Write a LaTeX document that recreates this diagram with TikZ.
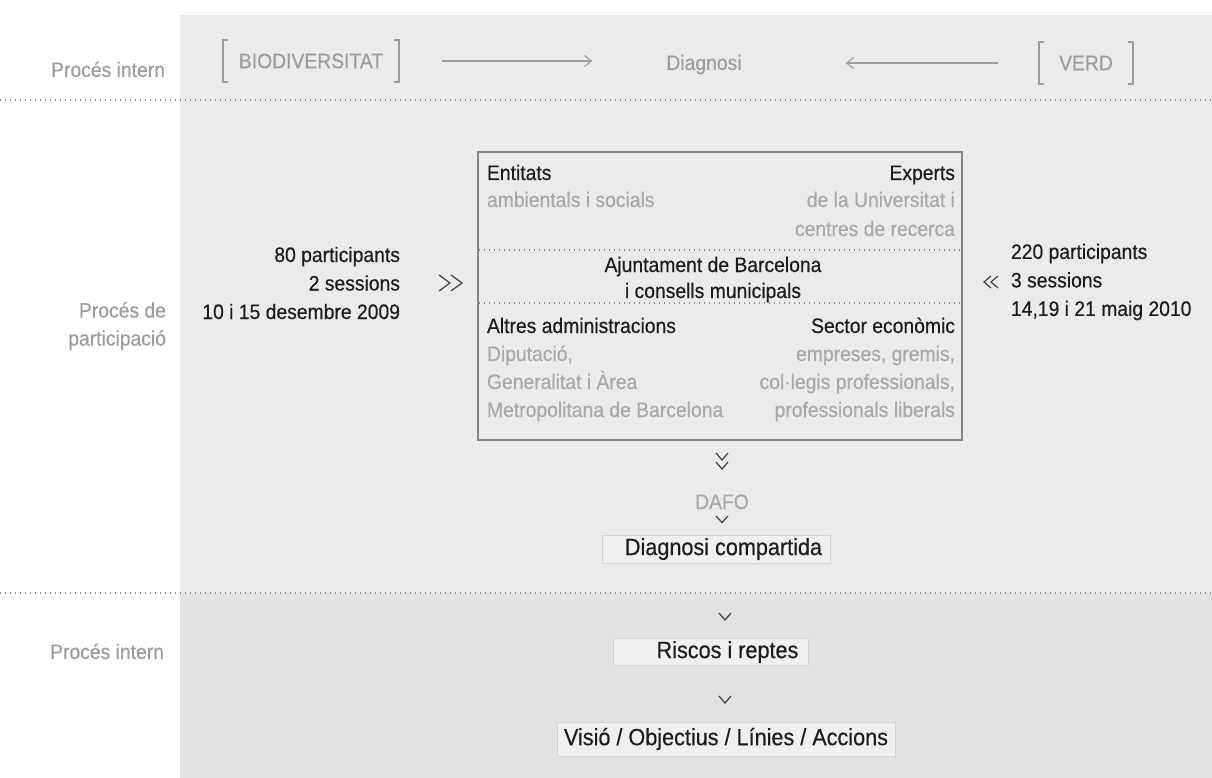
\documentclass[tikz,border=0pt]{standalone}
\usepackage{fontspec}
\setmainfont{Liberation Sans}[FakeStretch=0.92,FakeBold=0.35]
\usetikzlibrary{arrows.meta}
\definecolor{bgA}{HTML}{EBEBEB}
\definecolor{bgB}{HTML}{E2E2E2}
\definecolor{txt}{HTML}{1C1C1C}
\definecolor{lite}{HTML}{A8A8A8}
\definecolor{lbl}{HTML}{9C9C9C}
\definecolor{rule}{HTML}{8A8A8A}
\definecolor{frame}{HTML}{838383}
\definecolor{softfill}{HTML}{F0F0F0}
\begin{document}
\begin{tikzpicture}[x=1pt,y=-1pt,
  every node/.style={inner sep=0pt, outer sep=0pt, font=\fontsize{21}{28.5}\selectfont, text=txt},
  grey/.style={text=lite},
  lab/.style={text=lbl, align=right, font=\fontsize{21}{28}\selectfont},
  big/.style={font=\fontsize{23.5}{28}\selectfont},
  dotrule/.style={draw=rule, line width=1.3pt, dash pattern=on 0.9pt off 4.1pt},
  chev/.style={draw=txt!85, line width=1.2pt, line join=miter},
  flow/.style={draw=lbl, line width=1.2pt, -{Straight Barb[length=7pt,width=11pt]}},
  brk/.style={draw=lbl, line width=1.3pt},
  softbox/.style={draw=black!17, line width=0.6pt, fill=softfill, minimum height=#1},
  softbox/.default=28pt,
  frame/.style={draw=frame, line width=1.5pt}
]
\useasboundingbox (0,0) rectangle (1212,778);
% backgrounds
\fill[bgA] (180,15) rectangle (1212,593);
\fill[bgB] (180,593) rectangle (1212,778);
% separators
\draw[dotrule] (0,100) -- (1212,100);
\draw[dotrule] (0,593) -- (1212,593);

% ---- row 1 : proces intern
\node[lab, anchor=base east] (pi1) at (165,77) {Procés intern};
\node[text=lbl, minimum width=176pt, minimum height=42pt] (bio) at (311,61) {BIODIVERSITAT};
\draw[brk] ([xshift=5pt]bio.north west) -- (bio.north west) -- (bio.south west) -- ([xshift=5pt]bio.south west);
\draw[brk] ([xshift=-5pt]bio.north east) -- (bio.north east) -- (bio.south east) -- ([xshift=-5pt]bio.south east);
\node[text=lbl, anchor=base] (diag) at (704,70) {Diagnosi};
\node[text=lbl, minimum width=94pt, minimum height=42pt] (verd) at (1086,63) {VERD};
\draw[brk] ([xshift=5pt]verd.north west) -- (verd.north west) -- (verd.south west) -- ([xshift=5pt]verd.south west);
\draw[brk] ([xshift=-5pt]verd.north east) -- (verd.north east) -- (verd.south east) -- ([xshift=-5pt]verd.south east);
\draw[flow, shorten <=43pt, shorten >=74pt] (bio.east) -- (diag.west |- bio.east);
\draw[flow, shorten <=41pt, shorten >=104pt] (verd.west) -- (diag.east |- verd.west);

% ---- participation
\node[lab, anchor=east] (pp) at (166,326) {Procés de\\participació};
\node[align=right, anchor=east] (p80) at (400,283) {80 participants\\2 sessions\\10 i 15 desembre 2009};
\node[align=left, anchor=west] (p220) at (1011,282) {220 participants\\3 sessions\\14,19 i 21 maig 2010};
\draw[chev] (439,275) -- (450,283) -- (439,291);
\draw[chev] (451,275) -- (462,283) -- (451,291);
\draw[chev] (991,276) -- (984,282) -- (991,288);
\draw[chev] (998,276) -- (991,282) -- (998,288);

\node[frame, minimum width=484pt, minimum height=288pt] (box) at (720,296) {};
\draw[dotrule, line width=1.1pt] (479,250) -- (961,250);
\draw[dotrule, line width=1.1pt] (479,303) -- (961,303);

\node[anchor=base west] (ent) at (487,180) {Entitats};
\node[grey, anchor=base west] (ent2) at (487,207) {ambientals i socials};
\node[anchor=base east] (exp) at (955,180) {Experts};
\node[grey, anchor=base east] (exp2) at (955,207) {de la Universitat i};
\node[grey, anchor=base east] (exp3) at (955,236) {centres de recerca};
\node[anchor=base] (aj1) at (713,272) {Ajuntament de Barcelona};
\node[anchor=base] (aj2) at (713,298) {i consells municipals};
\node[anchor=base west] (alt) at (487,333) {Altres administracions};
\node[grey, anchor=base west] (alt2) at (487,361) {Diputació,};
\node[grey, anchor=base west] (alt3) at (487,389) {Generalitat i Àrea};
\node[grey, anchor=base west] (alt4) at (487,417) {Metropolitana de Barcelona};
\node[anchor=base east] (sec) at (955,333) {Sector econòmic};
\node[grey, anchor=base east] (sec2) at (955,361) {empreses, gremis,};
\node[grey, anchor=base east] (sec3) at (955,389) {col·legis professionals,};
\node[grey, anchor=base east] (sec4) at (955,417) {professionals liberals};

% ---- below the box
\draw[chev] (716,453) -- (722,460) -- (728,453);
\draw[chev] (716,462) -- (722,469) -- (728,462);
\node[grey, anchor=base] (dafo) at (722,509) {DAFO};
\draw[chev] (716,516) -- (722,522.5) -- (728,516);
\node[softbox, big, inner xsep=8pt] (dc) at (716,549) {\hspace*{15pt}Diagnosi compartida};

% ---- proces intern (bottom)
\node[lab, anchor=base east] (pi2) at (164,659) {Procés intern};
\draw[chev] (719,613) -- (725,620) -- (731,613);
\node[softbox=27pt, big, inner xsep=10pt] (rr) at (711,652) {\hspace*{33pt}Riscos i reptes};
\draw[chev] (719,696) -- (725,703) -- (731,696);
\node[softbox=34pt, big, inner xsep=7pt] (vo) at (726,739) {Visió / Objectius / Línies / Accions};
\end{tikzpicture}
\end{document}
